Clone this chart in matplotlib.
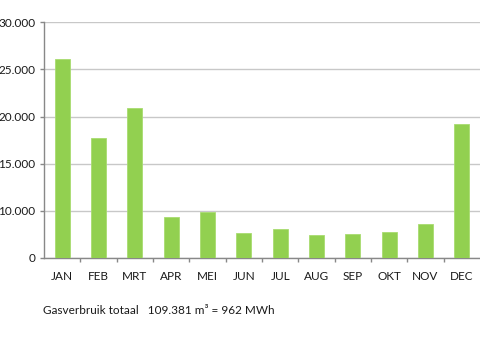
import matplotlib.pyplot as plt
import numpy as np

# maandelijks gasverbruik (m3)
months = ['JAN', 'FEB', 'MRT', 'APR', 'MEI', 'JUN', 'JUL', 'AUG', 'SEP', 'OKT', 'NOV', 'DEC']
usage = [25380, 15320, 19140, 5170, 5810, 3140, 3700, 2880, 3010, 3310, 4370, 17020]

# tick positions and labels as printed on the original chart
ytick_vals = [0, 6000, 12000, 18000, 24000, 30000]
ytick_labels = ['0', '10.000', '15.000', '20.000', '25.000', '30.000']

footer = 'Gasverbruik totaal   109.381 m\u00b3 = 962 MWh'

plt.rcParams['font.family'] = ['Lato', 'DejaVu Sans']

fig = plt.figure(figsize=(4.8, 3.45), dpi=100)
ax = fig.add_axes([44 / 480, 87 / 345, 436 / 480, 235.7 / 345])

x = np.arange(len(months))
ax.bar(x, usage, width=0.42, color='#92d050', edgecolor='#a8dc70', linewidth=0.6, zorder=3)

ax.set_xlim(-0.5, len(months) - 0.5)
ax.set_ylim(0, 30000)

ax.set_yticks(ytick_vals)
ax.set_yticklabels(ytick_labels)
ax.yaxis.grid(True, color='#c8c8c8', linewidth=1.0, zorder=0)
ax.tick_params(axis='y', length=3, width=1, color='#888888', pad=3,
               labelsize=8.5, labelcolor='#1a1a1a')

ax.set_xticks(x)
ax.set_xticklabels(months)
ax.set_xticks(x[:-1] + 0.5, minor=True)
ax.tick_params(axis='x', which='major', length=0, pad=9, labelsize=8.5, labelcolor='#1a1a1a')
ax.tick_params(axis='x', which='minor', length=3, width=1, color='#888888')

for side in ['top', 'right']:
    ax.spines[side].set_visible(False)
for side in ['left', 'bottom']:
    ax.spines[side].set_color('#888888')
    ax.spines[side].set_linewidth(1.0)

fig.text(43 / 480, 1 - 311 / 345, footer, fontsize=8.5, color='#1a1a1a', va='center', ha='left')

fig.savefig('out.png', dpi=100)
